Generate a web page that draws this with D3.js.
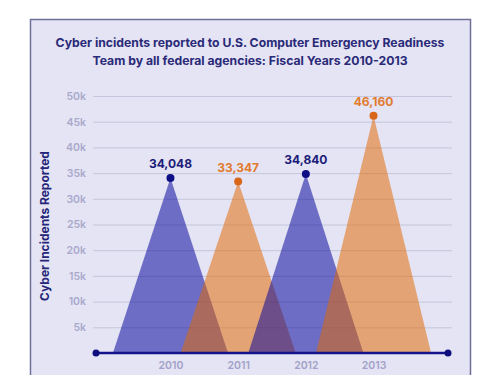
<!DOCTYPE html>
<html><head><meta charset="utf-8">
<script src="https://cdn.jsdelivr.net/npm/d3@7/dist/d3.min.js"></script>
<style>body{margin:0;background:#fff;}svg{display:block;}</style>
</head><body>
<script>
const years = [2010, 2011, 2012, 2013];
const incidents = [34048, 33347, 34840, 46160];
const seriesColors = ["blue", "orange", "blue", "orange"];
const yTicks = [5000, 10000, 15000, 20000, 25000, 30000, 35000, 40000, 45000, 50000];
const yTickLabels = ["5k","10k","15k","20k","25k","30k","35k","40k","45k","50k"];
const titleLines = ["Cyber incidents reported to U.S. Computer Emergency Readiness", "Team by all federal agencies: Fiscal Years 2010-2013"];
const yTitle = "Cyber Incidents Reported";

const W = 500, H = 375;
const fills = {blue: "#00009a", orange: "#e36800"};
const dotColors = {blue: "#0d0d86", orange: "#d8671a"};
const labelColors = {blue: "#1c1c78", orange: "#e27b2e"};
const font = "Inter, 'Open Sans', 'DejaVu Sans', sans-serif";

const svg = d3.select("body").append("svg").attr("width", W).attr("height", H);

svg.append("rect").attr("x", 30.5).attr("y", 19.5).attr("width", 440).attr("height", 380)
  .attr("fill", "#e4e4f4").attr("stroke", "#6f6f9a").attr("stroke-width", 1.5);

const x = d3.scaleLinear().domain([2008.9, 2014.1]).range([96, 448]);
const y = d3.scaleLinear().domain([0, 50000]).range([353, 96]);

// title
const tt = svg.append("g");
titleLines.forEach((t, i) => {
  const el = tt.append("text").attr("x", 250).attr("y", 47 + i * 17.5)
    .attr("text-anchor", "middle").attr("font-family", font).attr("font-weight", 700)
    .attr("font-size", 12).attr("fill", "#2a2a78").text(t);
  if (i === 0) {
    const len = el.node().getComputedTextLength();
    tt.attr("data-scale", 12 * 389 / len);
  }
});
const fs = +tt.attr("data-scale");
tt.selectAll("text").attr("font-size", fs);

// gridlines + y labels
const yAxis = d3.axisLeft(y).tickValues(yTicks).tickFormat((d, i) => yTickLabels[i]).tickSize(-(452 - 93)).tickPadding(7);
const ga = svg.append("g").attr("transform", "translate(93,0)").call(yAxis);
ga.select(".domain").remove();
ga.selectAll(".tick line").attr("stroke", "#c6c6dc").attr("stroke-width", 1);
ga.selectAll(".tick text").attr("font-family", font).attr("font-size", 10.5).attr("font-weight", 600).attr("fill", "#aaa9cc");

// y title
svg.append("text").attr("transform", "translate(49,226) rotate(-90)")
  .attr("text-anchor", "middle").attr("font-family", font).attr("font-weight", 700)
  .attr("font-size", 12).attr("fill", "#25257a").text(yTitle);

// triangles
const half = 0.85;
years.forEach((yr, i) => {
  const pts = [[x(yr - half), y(0)], [x(yr), y(incidents[i])], [x(yr + half), y(0)]];
  svg.append("path").attr("d", d3.line()(pts) + "Z")
    .attr("fill", fills[seriesColors[i]]).attr("fill-opacity", 0.52);
});

// baseline axis
svg.append("line").attr("x1", x.range()[0]).attr("x2", x.range()[1]).attr("y1", y(0)).attr("y2", y(0))
  .attr("stroke", "#14148a").attr("stroke-width", 2.5);
x.range().forEach(px => svg.append("circle").attr("cx", px).attr("cy", y(0)).attr("r", 3.5).attr("fill", "#0d0d7e"));

// x labels
const xAxis = d3.axisBottom(x).tickValues(years).tickFormat(d3.format("d")).tickSize(0).tickPadding(9);
const gx = svg.append("g").attr("transform", `translate(0,${y(0)})`).call(xAxis);
gx.select(".domain").remove();
gx.selectAll(".tick text").attr("font-family", font).attr("font-size", 10.5).attr("font-weight", 600).attr("fill", "#a3a2c8");

// dots + value labels
years.forEach((yr, i) => {
  const c = seriesColors[i];
  svg.append("circle").attr("cx", x(yr)).attr("cy", y(incidents[i])).attr("r", 4).attr("fill", dotColors[c]);
  svg.append("text").attr("x", x(yr)).attr("y", y(incidents[i]) - 10)
    .attr("text-anchor", "middle").attr("font-family", font).attr("font-weight", 700)
    .attr("font-size", 12).attr("fill", labelColors[c]).text(d3.format(",")(incidents[i]));
});
</script>
</body></html>
